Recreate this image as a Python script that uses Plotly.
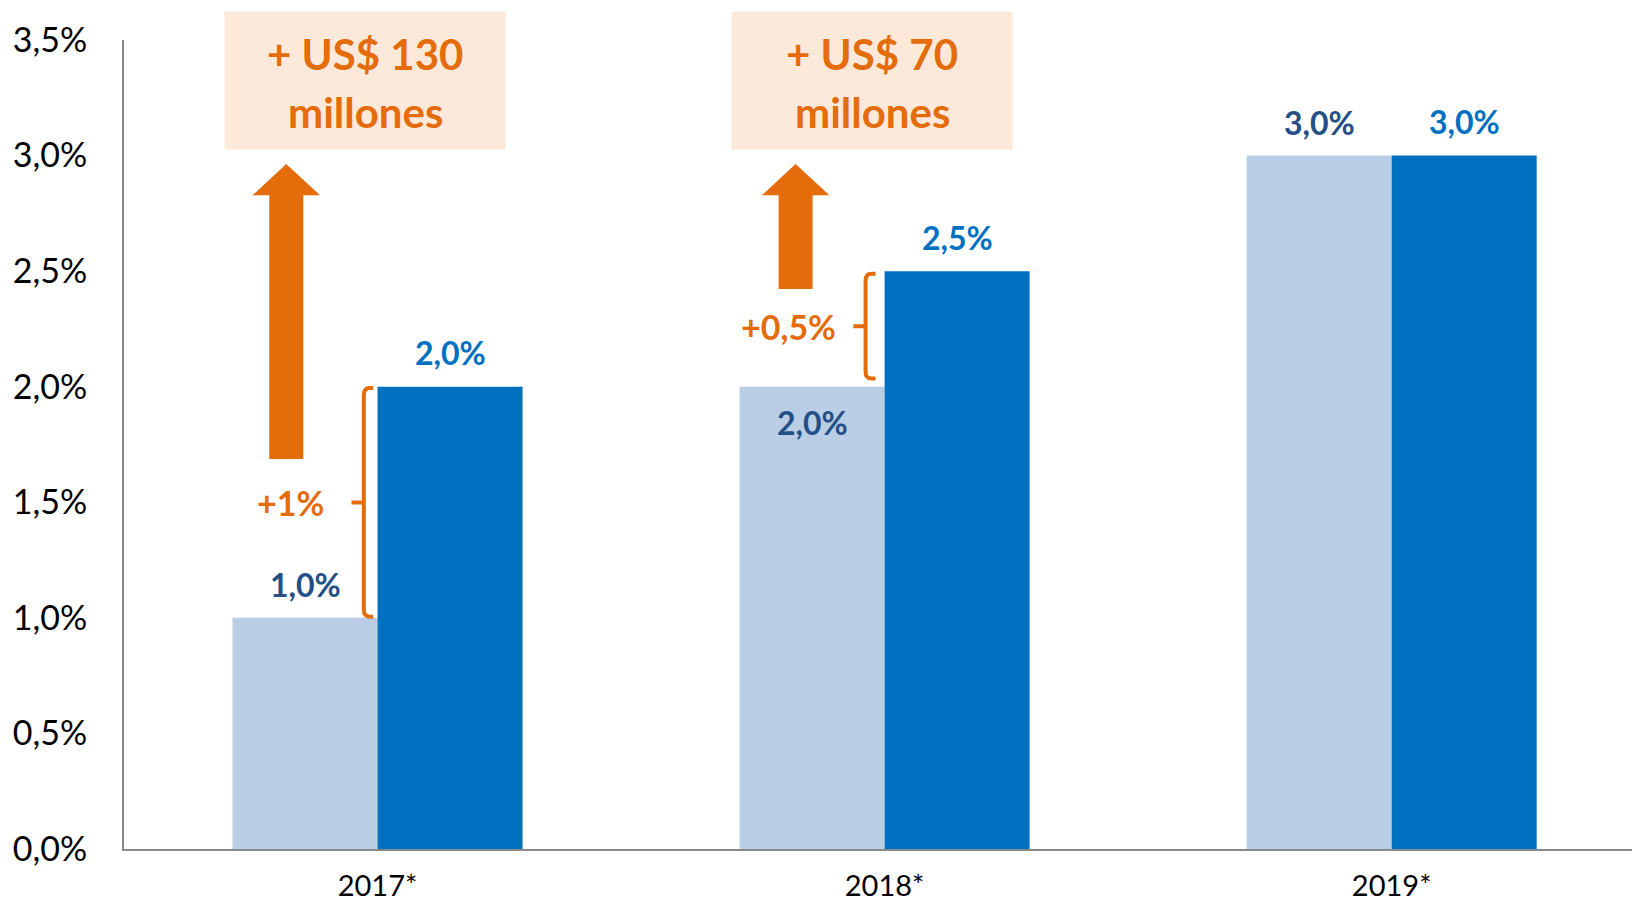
import plotly.graph_objects as go

# ---------------- data ----------------
years = ["2017*", "2018*", "2019*"]
antes = [1.0, 2.0, 3.0]          # light bars
despues = [2.0, 2.5, 3.0]        # dark blue bars
antes_labels = ["1,0%", "2,0%", "3,0%"]
despues_labels = ["2,0%", "2,5%", "3,0%"]
y_tickvals = [0, 0.5, 1.0, 1.5, 2.0, 2.5, 3.0, 3.5]
y_ticktext = ["0,0%", "0,5%", "1,0%", "1,5%", "2,0%", "2,5%", "3,0%", "3,5%"]
incrementos = ["+1%", "+0,5%"]
montos_l1 = ["+ US$ 130", "+ US$ 70"]
montos_l2 = ["millones", "millones"]

# ---------------- style ----------------
FONT = "Lato"
C_LIGHT = "#B9CDE5"
C_BLUE = "#0070C0"
C_NAVY = "#244F86"
C_ORANGE = "#E46C0A"
C_BOX = "#FDE9D9"
C_AXIS = "#898989"

xs = list(range(len(years)))
BAR_OFF = 0.143

fig = go.Figure()
fig.add_trace(go.Bar(x=xs, y=antes, marker_color=C_LIGHT, marker_line_width=0,
                     hoverinfo="skip"))
fig.add_trace(go.Bar(x=xs, y=despues, marker_color=C_BLUE, marker_line_width=0,
                     hoverinfo="skip"))

annotations = []
# data labels
antes_inside = [False, True, False]
for i in xs:
    annotations.append(dict(x=i - BAR_OFF, y=antes[i], xref="x", yref="y",
                            text=f"<b>{antes_labels[i]}</b>", showarrow=False,
                            yshift=-36 if antes_inside[i] else 33,
                            font=dict(family=FONT, size=32, color=C_NAVY)))
    annotations.append(dict(x=i + BAR_OFF, y=despues[i], xref="x", yref="y",
                            text=f"<b>{despues_labels[i]}</b>", showarrow=False,
                            yshift=34,
                            font=dict(family=FONT, size=32, color=C_BLUE)))

# brackets + increment labels (for the first two years)
br_xv = [-0.027, -0.0375]
br_xr = [-0.0085, -0.0178]
br_xn = [-0.0513, -0.0617]
br_lo = [antes[0] + 0.005, antes[1] + 0.035]
br_hi = [despues[0] - 0.006, despues[1] - 0.011]
inc_x = [-0.171, -0.19]

shapes = []
for k in range(2):
    xv, xr, xn = k + br_xv[k], k + br_xr[k], k + br_xn[k]
    y0, y1 = br_lo[k], br_hi[k]
    ym = (y0 + y1) / 2
    rx, ry = 0.012, 0.03
    path = (f"M {xr},{y1} L {xv + rx},{y1} Q {xv},{y1} {xv},{y1 - ry} "
            f"L {xv},{y0 + ry} Q {xv},{y0} {xv + rx},{y0} L {xr},{y0} "
            f"M {xv},{ym} L {xn},{ym}")
    shapes.append(dict(type="path", path=path, xref="x", yref="y",
                       line=dict(color=C_ORANGE, width=4)))
    annotations.append(dict(x=k + inc_x[k], y=ym, xref="x", yref="y",
                            text=f"<b>{incrementos[k]}</b>", showarrow=False,
                            font=dict(family=FONT, size=34, color=C_ORANGE)))

# arrows
arr_x = [-0.180, -0.1755]
arr_bottom = [1.687, 2.423]
arr_top = [2.964, 2.964]
for k in range(2):
    xc = k + arr_x[k]
    hw, HW, hh = 0.0335, 0.0667, 0.136
    y0, y1 = arr_bottom[k], arr_top[k]
    neck = y1 - hh
    path = (f"M {xc - hw},{y0} L {xc - hw},{neck} L {xc - HW},{neck} L {xc},{y1} "
            f"L {xc + HW},{neck} L {xc + hw},{neck} L {xc + hw},{y0} Z")
    shapes.append(dict(type="path", path=path, xref="x", yref="y",
                       fillcolor=C_ORANGE, line=dict(width=0)))

# amount boxes
box_x = -0.024
for k in range(2):
    annotations.append(dict(x=k + box_x, y=3.323, xref="x", yref="y",
                            text="&nbsp;", showarrow=False, bgcolor=C_BOX,
                            width=280, height=137, borderpad=0,
                            xanchor="center", yanchor="middle",
                            font=dict(family=FONT, size=10)))
    annotations.append(dict(x=k + box_x, y=3.44, xref="x", yref="y",
                            text=f"<b>{montos_l1[k]}</b>", showarrow=False,
                            font=dict(family=FONT, size=42, color=C_ORANGE)))
    annotations.append(dict(x=k + box_x, y=3.19, xref="x", yref="y",
                            text=f"<b>{montos_l2[k]}</b>", showarrow=False,
                            font=dict(family=FONT, size=42, color=C_ORANGE)))

fig.update_layout(
    width=1632, height=902,
    margin=dict(l=124, r=0, t=40, b=53, pad=0, autoexpand=False),
    barmode="group", bargap=0.428, bargroupgap=0,
    showlegend=False,
    plot_bgcolor="white", paper_bgcolor="white",
    font=dict(family=FONT, color="black"),
    shapes=shapes, annotations=annotations,
    xaxis=dict(range=[-0.5, 2.474], tickvals=xs, ticktext=years,
               showline=True, linecolor=C_AXIS, linewidth=2,
               showgrid=False, zeroline=False, ticks="", automargin=False,
               ticklabelstandoff=10,
               tickfont=dict(family=FONT, size=29, color="black")),
    yaxis=dict(range=[0, 3.5], tickvals=y_tickvals, ticktext=y_ticktext,
               showline=True, linecolor=C_AXIS, linewidth=2,
               showgrid=False, zeroline=False, ticks="", automargin=False,
               ticklabelstandoff=28,
               tickfont=dict(family=FONT, size=34, color="black")),
)

fig.write_html("out.html", config={"displayModeBar": False},
               post_script="document.body.style.margin='0';document.body.style.overflow='hidden';")
